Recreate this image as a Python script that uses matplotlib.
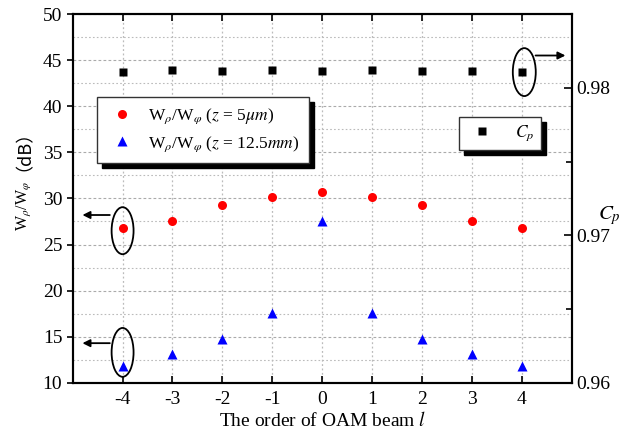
import matplotlib
matplotlib.use("Agg")
import matplotlib.pyplot as plt
from matplotlib.patches import Ellipse
from matplotlib.ticker import MultipleLocator

plt.rcParams['font.family'] = ['Liberation Serif', 'DejaVu Serif']
plt.rcParams['mathtext.fontset'] = 'stix'
plt.rcParams['axes.unicode_minus'] = False

# --- data ---
orders = [-4, -3, -2, -1, 0, 1, 2, 3, 4]
ratio_5um = [26.75, 27.6, 29.3, 30.2, 30.65, 30.2, 29.3, 27.6, 26.75]
ratio_12mm = [11.8, 13.1, 14.8, 17.6, 27.5, 17.6, 14.8, 13.1, 11.8]
cp = [0.98107, 0.98118, 0.98111, 0.98118, 0.98114, 0.98118, 0.98111, 0.98116, 0.98107]

fig = plt.figure(figsize=(6.25, 4.38), dpi=100)
ax = fig.add_axes([0.1163, 0.126, 0.7984, 0.842])
ax2 = ax.twinx()

l1, = ax.plot(orders, ratio_5um, 'o', color='#ff0000', ms=6.5, mec='none',
              label=r'W$_\rho$/W$_\varphi$ ($z$ = 5$\mu m$)')
l2, = ax.plot(orders, ratio_12mm, '^', color='#0000ff', ms=7, mec='none',
              label=r'W$_\rho$/W$_\varphi$ ($z$ = 12.5$mm$)')
l3, = ax2.plot(orders, cp, 's', color='black', ms=6, mec='none', label=r'$C_p$')

ax.set_xlim(-5, 5)
ax.set_ylim(10, 50)
ax2.set_ylim(0.96, 0.985)

ax.set_xticks(orders)
ax.yaxis.set_major_locator(MultipleLocator(5))
ax.yaxis.set_minor_locator(MultipleLocator(2.5))
ax2.yaxis.set_minor_locator(MultipleLocator(0.005))
ax2.set_yticks([0.96, 0.97, 0.98])
ax2.set_yticklabels(['0.96', '0.97', '0.98'])

ax.grid(True, axis='x', which='major', color='#bbbbbb', ls=(0, (1.5, 2)), lw=0.9)
ax.grid(True, axis='y', which='major', color='#aaaaaa', ls=(0, (2.5, 2)), lw=0.8)
ax.grid(True, axis='y', which='minor', color='#bbbbbb', ls=(0, (1.5, 2)), lw=0.8)

ax.tick_params(axis='x', which='major', direction='in', top=True, length=5, width=1.2,
               labelsize=14, pad=6)
ax.tick_params(axis='y', which='major', direction='out', length=4, width=1.2, labelsize=14)
ax.tick_params(axis='y', which='minor', length=0)
ax2.tick_params(axis='y', which='major', direction='in', length=6, width=1.2, labelsize=14)
ax2.tick_params(axis='y', which='minor', direction='in', length=4, width=1.2)

for a in (ax, ax2):
    for s in a.spines.values():
        s.set_linewidth(1.5)

ax.set_xlabel(r'The order of OAM beam $l$', fontsize=14, labelpad=2)
ax2.set_ylabel(r'$C_p$', fontsize=15, rotation=0, labelpad=10)
ax2.yaxis.set_label_coords(1.075, 0.485)

# y label in two pieces so the full-width brackets can come from a CJK font
fig.text(24 / 625, 1 - 231 / 438, r'W$_\rho$/W$_\varphi$', rotation=90,
         ha='center', va='bottom', fontsize=11.5)
fig.text(15 / 625, 1 - 171 / 438, '（dB）', rotation=90, ha='center', va='bottom',
         fontsize=13, family=['Noto Sans CJK SC'])

# ellipses and arrows
ell_kw = dict(fill=False, ec='black', lw=1.3, zorder=6)
ax.add_patch(Ellipse((-4, 26.5), 0.44, 5.1, **ell_kw))
ax.add_patch(Ellipse((-4, 13.3), 0.44, 5.3, **ell_kw))
ax.add_patch(Ellipse((4.05, 43.7), 0.46, 5.2, **ell_kw))
arr = dict(arrowstyle='-|>', color='black', lw=1.3, mutation_scale=11)
ax.annotate('', xy=(-4.86, 28.2), xytext=(-4.2, 28.2), arrowprops=arr, zorder=6)
ax.annotate('', xy=(-4.86, 14.3), xytext=(-4.2, 14.3), arrowprops=arr, zorder=6)
ax.annotate('', xy=(4.93, 45.5), xytext=(4.22, 45.5), arrowprops=arr, zorder=6)

shadow = {'ox': 3.6, 'oy': -3.6, 'facecolor': 'black', 'edgecolor': 'black', 'alpha': 1}
leg1 = ax2.legend(handles=[l1, l2], loc='upper left', bbox_to_anchor=(97 / 625, 1 - 97 / 438),
                  bbox_transform=fig.transFigure, borderaxespad=0, fancybox=False,
                  shadow=shadow, framealpha=1, edgecolor='#333333', fontsize=12.5,
                  handletextpad=0.6, borderpad=0.55, labelspacing=0.45, handlelength=1.8)
leg1.get_frame().set_linewidth(1.0)
ax2.add_artist(leg1)
leg2 = ax2.legend(handles=[l3], loc='upper left', bbox_to_anchor=(459 / 625, 1 - 116.7 / 438),
                  bbox_transform=fig.transFigure, borderaxespad=0, fancybox=False,
                  shadow=shadow, framealpha=1, edgecolor='#333333', fontsize=12.5,
                  handletextpad=1.0, borderpad=0.4, handlelength=1.8)
leg2.get_frame().set_linewidth(1.0)

fig.savefig('out.png', dpi=100)
